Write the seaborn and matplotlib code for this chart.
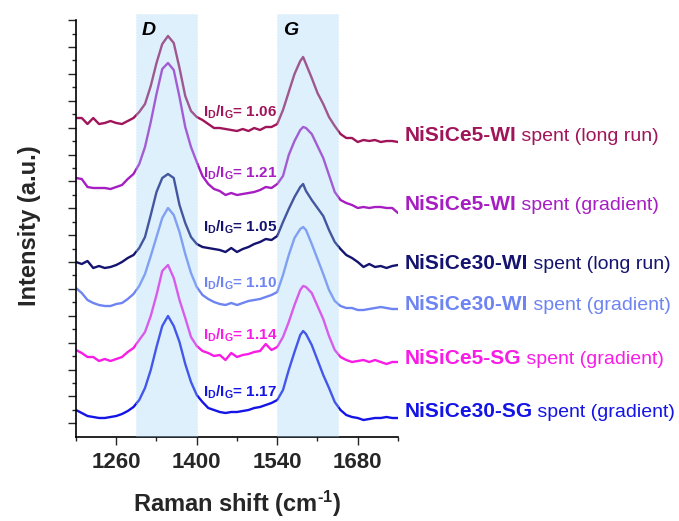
import numpy as np
import pandas as pd
import matplotlib
matplotlib.use("Agg")
import matplotlib.pyplot as plt
import seaborn as sns

# ---------------- data ----------------
RAMAN_SHIFT = [1190, 1200, 1210, 1220, 1230, 1240, 1250, 1260, 1270, 1280,
               1290, 1300, 1310, 1320, 1330, 1340, 1350, 1360, 1370, 1380,
               1390, 1400, 1410, 1420, 1430, 1440, 1450, 1460, 1470, 1480,
               1490, 1500, 1510, 1520, 1530, 1540, 1550, 1560, 1570, 1580,
               1585, 1590, 1600, 1610, 1620, 1630, 1640, 1650, 1660, 1670,
               1680, 1690, 1700, 1710, 1720, 1730, 1740, 1750]

ce5_wi_long = [319, 319, 313, 319, 313, 314, 316, 314, 313, 316, 319, 325, 333, 351, 374,
               393, 401, 394, 369, 341, 326, 320, 317, 313, 309, 309, 308, 307, 306, 308,
               306, 309, 307, 310, 310, 313, 327, 345, 363, 376, 380, 373, 359, 344, 333,
               320, 311, 303, 299, 299, 295, 297, 296, 297, 295, 296, 296, 295]
ce5_wi_grad = [259, 258, 250, 249, 249, 249, 248, 250, 252, 258, 263, 273, 290, 315, 343,
               368, 374, 367, 340, 310, 290, 275, 261, 253, 248, 246, 242, 244, 242, 243,
               244, 245, 247, 250, 249, 253, 261, 282, 296, 307, 310, 309, 303, 291, 279,
               262, 245, 237, 234, 232, 229, 230, 229, 230, 230, 229, 229, 224]
ce30_wi_long = [175, 173, 176, 169, 171, 169, 170, 172, 175, 179, 182, 189, 200, 222, 245,
                259, 263, 259, 232, 214, 200, 193, 190, 189, 188, 187, 185, 189, 185, 188,
                190, 193, 195, 198, 197, 201, 215, 228, 240, 250, 253, 246, 237, 229, 221,
                207, 195, 188, 182, 179, 175, 170, 173, 170, 171, 169, 171, 172]
ce30_wi_grad = [149, 144, 137, 134, 132, 131, 131, 133, 134, 138, 143, 151, 163, 181, 200,
                219, 229, 222, 205, 183, 164, 150, 142, 138, 135, 133, 132, 134, 132, 134,
                136, 137, 138, 140, 142, 145, 162, 182, 199, 208, 210, 207, 193, 178, 163,
                147, 136, 131, 129, 129, 127, 127, 128, 129, 130, 129, 128, 128]
ce5_sg_grad = [87, 84, 80, 80, 76, 78, 76, 78, 80, 85, 89, 97, 105, 121, 142,
               166, 172, 159, 137, 119, 100, 91, 86, 84, 81, 82, 77, 84, 80, 82,
               83, 85, 86, 93, 87, 90, 100, 115, 132, 147, 151, 150, 144, 131, 118,
               101, 87, 80, 77, 75, 76, 77, 75, 77, 75, 73, 75, 75]
ce30_sg_grad = [27, 24, 21, 20, 19, 19, 20, 21, 23, 26, 30, 37, 49, 67, 90,
                111, 121, 111, 95, 73, 55, 42, 35, 29, 27, 25, 24, 25, 25, 26,
                27, 29, 30, 32, 34, 37, 47, 67, 85, 102, 106, 103, 92, 77, 62,
                49, 35, 27, 22, 20, 19, 17, 18, 19, 19, 20, 19, 19]

sample_names = ["NiSiCe5-WI", "NiSiCe5-WI", "NiSiCe30-WI", "NiSiCe30-WI",
                "NiSiCe5-SG", "NiSiCe30-SG"]
sample_conditions = [" spent (long run)", " spent (gradient)", " spent (long run)",
                     " spent (gradient)", " spent (gradient)", " spent (gradient)"]
id_ig_ratios = ["1.06", "1.21", "1.05", "1.10", "1.14", "1.17"]
spectra = [ce5_wi_long, ce5_wi_grad, ce30_wi_long, ce30_wi_grad, ce5_sg_grad, ce30_sg_grad]
band_labels = ["D", "G"]
band_ranges = [(1295, 1400), (1540, 1645)]
x_major_ticks = [1260, 1400, 1540, 1680]

# ---------------- style ----------------
colors = ["#A0145A", "#A61EC2", "#141470", "#6E84F2", "#F81CE6", "#1414E6"]
ratio_pos = [(1411, 320), (1411, 259), (1411, 205), (1411, 149), (1411, 97), (1411, 40)]
label_base = [296, 227, 168, 127, 73, 20]

sns.set_style("ticks")
plt.rcParams["font.family"] = ["Liberation Sans", "DejaVu Sans"]
plt.rcParams["mathtext.fontset"] = "custom"
plt.rcParams["mathtext.rm"] = "Liberation Sans"
plt.rcParams["mathtext.bf"] = "Liberation Sans:bold"
plt.rcParams["mathtext.it"] = "Liberation Sans:italic"

keys = [f"s{i}" for i in range(len(spectra))]
df = pd.concat([pd.DataFrame({"shift": RAMAN_SHIFT, "intensity": s, "key": k})
                for s, k in zip(spectra, keys)], ignore_index=True)

fig = plt.figure(figsize=(6.79, 5.21), dpi=100)
ax = fig.add_axes([76 / 679, 84 / 521, 322 / 679, 423 / 521])

sns.lineplot(data=df, x="shift", y="intensity", hue="key", hue_order=keys,
             palette=dict(zip(keys, colors)), estimator=None, sort=False,
             legend=False, linewidth=1.7, ax=ax, zorder=2)

for (lo, hi), lab in zip(band_ranges, band_labels):
    ax.axvspan(lo, hi, ymin=0, ymax=1, facecolor="#9fd5f5", alpha=0.35,
               edgecolor="#b9dff5", linestyle=":", linewidth=0.8, zorder=3)
    ax.text(lo + 10, 402, lab, fontsize=14, fontweight="bold", fontstyle="italic",
            color="black", va="baseline", ha="left", zorder=5)

ax.set_xlim(1190, 1750)
ax.set_ylim(0, 423)

ax.set_xticks(x_major_ticks)
ax.set_xticks([1190, 1330, 1470, 1610, 1750], minor=True)
ymaj = 13.7 + 26.88 * np.arange(16)
ymin = 27.14 + 26.88 * np.arange(15)
ax.set_yticks(ymaj)
ax.set_yticks(ymin, minor=True)
ax.set_yticklabels([])
ax.tick_params(axis="x", which="major", length=5.5, width=1.0, pad=5,
               labelsize=16, direction="out")
ax.tick_params(axis="x", which="minor", length=2.6, width=1.0, direction="out")
ax.tick_params(axis="y", which="major", length=5.5, width=1.0, direction="out")
ax.tick_params(axis="y", which="minor", length=3.0, width=1.0, direction="out")
for t in ax.get_xticklabels():
    t.set_fontweight("bold")

for side in ["top", "right"]:
    ax.spines[side].set_visible(False)
for side in ["left", "bottom"]:
    ax.spines[side].set_linewidth(1.2)
    ax.spines[side].set_color("black")
ax.spines["left"].set_bounds(0, 417)

ax.set_xlabel("Raman shift (cm$^{\\mathbf{\u2010 1}}$)", fontsize=17, fontweight="bold",
              labelpad=12)
ax.set_ylabel("Intensity (a.u.)", fontsize=17, fontweight="bold", labelpad=16)

for (rx, ry), r, c in zip(ratio_pos, id_ig_ratios, colors):
    ax.text(rx, ry, r"$\mathbf{I_D/I_G}$= " + r, fontsize=11, fontweight="bold",
            color=c, va="baseline", ha="left", zorder=5)

for name, cond, c, yb in zip(sample_names, sample_conditions, colors, label_base):
    t = ax.text(1761, yb, name, fontsize=15, fontweight="bold", color=c,
                va="baseline", ha="left", clip_on=False)
    ax.annotate(cond, xy=(1, 0), xycoords=t, fontsize=14, color=c,
                va="bottom", ha="left", annotation_clip=False)

fig.savefig("out.png", dpi=100)
